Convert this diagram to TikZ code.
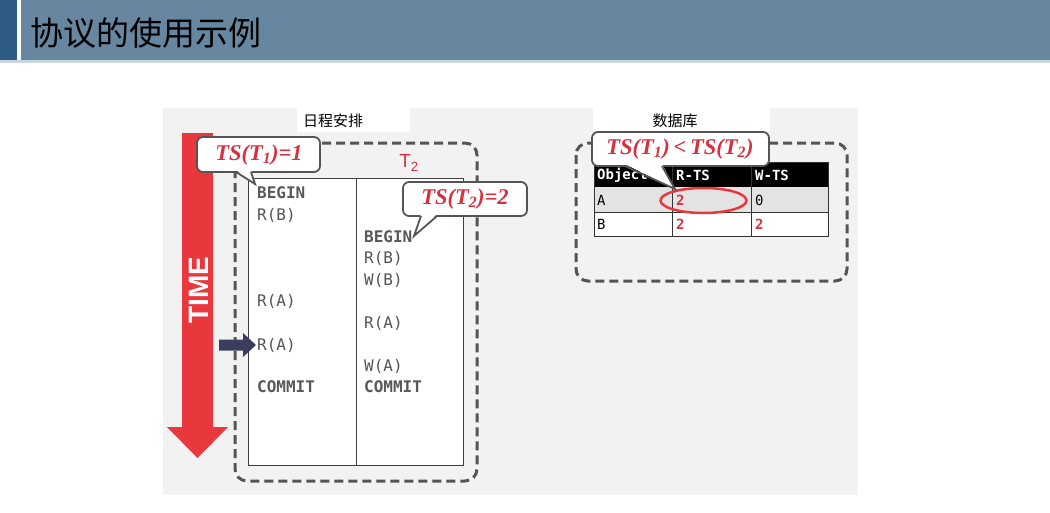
\documentclass[tikz,border=0pt]{standalone}
\usepackage{fontspec}
\newfontfamily\cjk{Noto Sans CJK SC}
\newfontfamily\mono{DejaVu Sans Mono}
\newfontfamily\serifit{Liberation Serif}
\newfontfamily\sansf{Liberation Sans}
\definecolor{barblue}{HTML}{6787A0}
\definecolor{darkblue}{HTML}{2D5B84}
\definecolor{panelgray}{HTML}{F2F2F2}
\definecolor{dashgray}{HTML}{555555}
\definecolor{txtgray}{HTML}{555555}
\definecolor{tsred}{HTML}{D9303F}
\definecolor{timered}{HTML}{E8383D}
\definecolor{navy}{HTML}{3B3D5E}
\definecolor{rowgray}{HTML}{E3E3E3}
\begin{document}
\begin{tikzpicture}[x=1pt,y=-1pt,
  dashbox/.style={draw=dashgray, line width=3pt, dash pattern=on 9pt off 5pt, rounded corners=12pt},
  callout/.style={draw=dashgray, fill=white, line width=1.8pt, rounded corners=6pt},
  calloutline/.style={draw=dashgray, line width=1.8pt, line join=miter},
  tstext/.style={text=tsred, font=\serifit\bfseries\itshape\fontsize{22.5}{22.5}\selectfont, inner sep=0pt},
  op/.style={anchor=west, inner sep=0pt, text=txtgray, font=\mono\fontsize{16}{16}\selectfont},
  opb/.style={op, font=\mono\bfseries\fontsize{16}{16}\selectfont, text=black!65},
  cell/.style={anchor=west, inner sep=0pt, font=\mono\fontsize{14}{14}\selectfont},
  cellb/.style={cell, font=\mono\bfseries\fontsize{14}{14}\selectfont},
  lbl/.style={inner sep=0pt, font=\cjk\fontsize{15}{15}\selectfont}
]
\useasboundingbox (0,0) rectangle (1050,512);
\fill[white] (0,0) rectangle (1050,512);
% header
\fill[darkblue] (0,0) rectangle (17,60);
\fill[barblue] (21,0) rectangle (1050,60);
\fill[barblue!35] (0,60) rectangle (1050,63);
\node[anchor=west, inner sep=0pt, font=\cjk\fontsize{33}{33}\selectfont] (title) at (30,33) {协议的使用示例};
% panel
\fill[panelgray] (163,108) rectangle (858,495);
\fill[white] (297,104) rectangle (410,132);
\fill[white] (593,104) rectangle (770,131);
\node[lbl] (lblsched) at (333,121) {日程安排};
\node[lbl] (lbldb) at (675,121) {数据库};
% TIME arrow
\fill[timered] (182,133) -- (213,133) -- (213,427) -- (228,427) -- (197.5,458) -- (167,427) -- (182,427) -- cycle;
\node[rotate=90, text=white, inner sep=0pt, font=\sansf\bfseries\fontsize{28}{28}\selectfont] (time) at (199,290) {TIME};
% schedule box
\draw[dashbox] (235,143) rectangle (477,481);
\draw[fill=white, draw=black!75, line width=1pt] (248,178) rectangle (463,465);
\draw[black!75, line width=1pt] (356,178) -- (356,465);
\node[inner sep=0pt, text=tsred, font=\sansf\fontsize{19}{19}\selectfont] (t2) at (409,163) {T\textsubscript{2}};
% column 1
\node[opb] (b1) at (257,193) {BEGIN};
\node[op] (rb1) at (257,215) {R(B)};
\node[op] (ra1) at (257,301) {R(A)};
\node[op] (ra1b) at (257,345) {R(A)};
\node[opb] (c1) at (257,387) {COMMIT};
% column 2
\node[opb] (b2) at (364,237) {BEGIN};
\node[op] (rb2) at (364,258) {R(B)};
\node[op] (wb2) at (364,280) {W(B)};
\node[op] (ra2) at (364,323) {R(A)};
\node[op] (wa2) at (364,366) {W(A)};
\node[opb] (c2) at (364,387) {COMMIT};
% pointer arrow
\fill[navy] (219,339.5) -- (243,339.5) -- (243,333) -- (256,345) -- (243,357) -- (243,350.5) -- (219,350.5) -- cycle;
% callout 1
\draw[callout] (197,137) rectangle (320,172);
\fill[white] (236,170) -- (255,184) -- (251,170) -- cycle;
\draw[calloutline] (236,172) -- (255,184) -- (251,172);
\node[tstext] (ts1) at (259,155) {TS(T\textsubscript{1})=1};
% callout 2
\draw[callout] (403,182) rectangle (527,216);
\fill[white] (421,214) -- (414,236) -- (437,214) -- cycle;
\draw[calloutline] (421,216) -- (414,236) -- (437,216);
\node[tstext] (ts2) at (465,199) {TS(T\textsubscript{2})=2};
% database box
\draw[dashbox] (576,143) rectangle (847,281);
\fill[black] (594,162) rectangle (828,187);
\fill[rowgray] (594,187) rectangle (828,212);
\fill[white] (594,212) rectangle (828,236);
\draw[black!80, line width=1pt] (594,162) rectangle (828,236);
\draw[black!80, line width=1pt] (594,212) -- (828,212);
\draw[black!80, line width=1pt] (672,162) -- (672,236) (751,162) -- (751,236);
\node[cellb, text=white] (hobj) at (597,175) {Object};
\node[cellb, text=white] (hr) at (676,175) {R-TS};
\node[cellb, text=white] (hw) at (755,175) {W-TS};
\node[cell] (ca) at (597,200) {A};
\node[cellb, text=tsred] (car) at (676,200) {2};
\node[cell] (caw) at (755,200) {0};
\node[cell] (cb) at (597,224) {B};
\node[cellb, text=tsred] (cbr) at (676,224) {2};
\node[cellb, text=tsred] (cbw) at (755,224) {2};
\draw[timered, line width=2.5pt] (703.5,200.5) ellipse (43pt and 12.5pt);
% callout 3
\draw[callout] (592,132) rectangle (769,166);
\fill[white] (625,164) -- (675,189) -- (662,164) -- cycle;
\draw[calloutline] (625,166) -- (675,189) -- (662,166);
\node[tstext] (ts3) at (680,149) {TS(T\textsubscript{1})\,<\,TS(T\textsubscript{2})};
\end{tikzpicture}
\end{document}
